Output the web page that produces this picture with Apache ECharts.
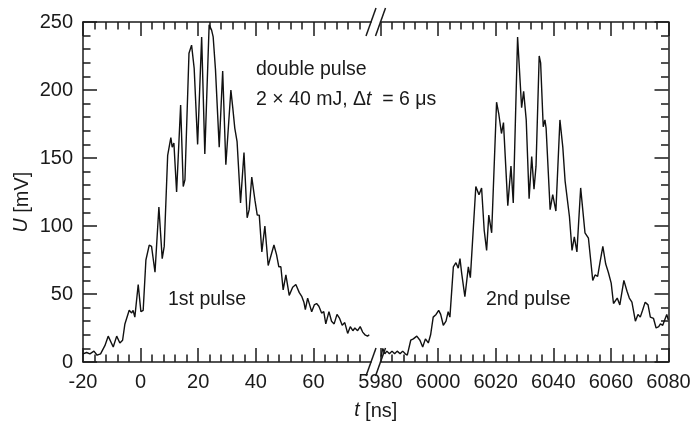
<!DOCTYPE html>
<html>
<head>
<meta charset="utf-8">
<script src="https://cdn.jsdelivr.net/npm/echarts@6/dist/echarts.min.js"></script>
<style>
  html, body { margin: 0; padding: 0; background: #fff; }
  #chart { width: 693px; height: 428px; }
</style>
</head>
<body>
<div id="chart"></div>
<script>
// First pulse: time [ns] and signal [mV]
const firstT = [-20, -18.75, -17.6, -16.2, -15.1, -13.9, -12.4, -11.25, -9.5, -8.3, -7.2, -6.25, -5.45,
  -3.96, -3.1, -2.6, -2.0, -0.83, 0.1, 0.9, 1.84, 3.0, 3.8, 5.0, 6.35, 7.5, 8.2, 9.4, 10.5, 10.97,
  11.56, 12.5, 13.9, 14.8, 15.4, 16.8, 17.2, 17.7, 18.6, 19.1, 19.8, 21.2, 22.3, 23.8, 24.65, 25.2,
  26.0, 27.3, 28.5, 29.6, 31.35, 32.0, 32.7, 33.5, 34.7, 35.9, 37.0, 37.7, 38.6, 39.7, 40.5, 41.2,
  42.1, 43.15, 44.3, 45.5, 46.3, 47.2, 48.0, 48.7, 49.5, 50.45, 51.6, 52.8, 53.9, 55.1, 56.0, 56.7,
  57.2, 58.0, 58.7, 59.4, 60.3, 61.1, 61.9, 62.85, 63.6, 64.3, 65.4, 66.3, 67.2, 68.2, 69.1, 70.0,
  70.9, 71.9, 72.8, 73.7, 74.4, 75.35, 76.25, 77.1, 77.9, 78.8, 79.4];
const firstU = [6, 7, 6, 8, 5, 6, 12, 19, 11, 19, 14, 16, 28,
  38, 36, 38, 33, 57, 37, 38, 75, 86, 85, 66, 114, 76, 85, 152, 165, 158,
  161, 125, 189, 129, 134, 227, 227, 233, 216, 215, 160, 239, 153, 248, 244, 239,
  215, 158, 214, 145, 200, 187, 172, 162, 117, 154, 106, 112, 136, 119, 108, 108,
  81, 100, 71, 80, 86, 79, 70, 70, 53, 64, 49, 55, 57, 51, 48, 44,
  38.5, 47, 42, 37, 42, 43, 41, 36, 37, 28, 37, 30, 28, 35, 32, 27,
  29, 21, 26, 23, 25, 23, 26, 22, 20, 19, 20];

// Second pulse, 6 µs later
const secondT = [5980.2, 5980.8, 5981.5, 5982.2, 5983.1, 5984.0, 5984.9, 5985.8, 5986.8, 5987.7, 5988.6,
  5989.3, 5990.5, 5991.4, 5992.6, 5993.7, 5994.65, 5995.6, 5996.6, 5997.4, 5998.3, 5999.3, 6000.2,
  6000.9, 6001.8, 6002.75, 6003.5, 6004.1, 6005.3, 6006.2, 6007.0, 6007.6, 6008.2, 6009.3, 6010.5,
  6011.2, 6013.1, 6014.2, 6015.1, 6016.0, 6016.85, 6017.6, 6018.6, 6020.3, 6021.1, 6022.0, 6022.7,
  6024.2, 6025.3, 6026.1, 6027.6, 6029.0, 6029.7, 6030.6, 6031.6, 6032.5, 6033.3, 6034.0, 6035.1,
  6035.6, 6036.5, 6037.1, 6037.5, 6038.9, 6039.8, 6040.9, 6042.3, 6043.3, 6044.1, 6044.65, 6045.6,
  6046.5, 6047.3, 6048.2, 6049.5, 6051.0, 6052.2, 6053.7, 6054.5, 6055.4, 6056.2, 6057.2, 6058.2,
  6059.1, 6060.1, 6060.9, 6061.5, 6062.2, 6063.1, 6064.5, 6065.6, 6066.4, 6067.3, 6068.5, 6069.4,
  6070.2, 6071.0, 6071.9, 6072.9, 6073.7, 6074.8, 6075.7, 6076.6, 6077.2, 6078.0, 6078.7, 6079.4, 6079.9];
const secondU = [4, 10, 6, 8, 6, 8, 6, 8, 6, 8, 6,
  5, 16, 17, 19, 16, 11, 17, 14, 20, 33, 35, 38,
  35, 27, 30, 37, 33, 70, 73, 69, 76, 65, 48, 70,
  62, 129, 123, 128, 97, 82, 108, 95, 191, 182, 168, 176,
  115, 144, 117, 239, 187, 199, 178, 120, 151, 127, 144, 225,
  220, 173, 178, 172, 112, 123, 111, 178, 158, 133, 134, 107,
  82, 92, 81, 128, 95, 91, 60, 64, 63, 73, 85, 72,
  66, 58, 43, 42, 47, 42, 60, 52, 47, 44, 30, 35,
  33, 38, 44, 42, 33, 32, 25, 26, 28, 27, 31, 35, 31];

const leftTicks = [-20, 0, 20, 40, 60];
const rightRange = [5980, 6080];
const leftRange = [-20, 80];
const yRange = [0, 250];

const FONT = '"Liberation Sans", Arial, Helvetica, sans-serif';
const INK = '#1a1a1a';
const TICK_FS = 20;
const TEXT_FS = 19.5;

function zip(a, b) { return a.map((v, i) => [v, b[i]]); }
const plain = v => String(v);

const axisLine = { show: true, onZero: false, lineStyle: { color: INK, width: 1.5 } };
const majorTick = { show: true, inside: true, length: 14, lineStyle: { color: INK, width: 1.5 } };
const minorTick = { show: true, splitNumber: 5, length: 7.5, lineStyle: { color: INK, width: 1.5 } };
const tickLabel = { color: INK, fontSize: TICK_FS, fontFamily: FONT, margin: 10, formatter: plain };

function xAxis(grid, pos, range, withLabels, customTicks) {
  return {
    type: 'value', gridIndex: grid, position: pos,
    min: range[0], max: range[1], interval: 20,
    axisLine: axisLine,
    axisTick: customTicks ? Object.assign({ customValues: customTicks }, majorTick) : majorTick,
    minorTick: minorTick,
    splitLine: { show: false },
    axisLabel: withLabels
      ? Object.assign({ showMinLabel: true, showMaxLabel: true,
          customValues: customTicks || undefined }, tickLabel)
      : { show: false }
  };
}

const option = {
  animation: false,
  backgroundColor: '#fff',
  grid: [
    { left: 83, top: 22, width: 288, bottom: 66, outerBoundsMode: 'none' },
    { left: 380.5, top: 22, width: 288, bottom: 66, outerBoundsMode: 'none' }
  ],
  xAxis: [
    xAxis(0, 'bottom', leftRange, true, leftTicks),
    xAxis(1, 'bottom', rightRange, true, null),
    xAxis(0, 'top', leftRange, false, leftTicks),
    xAxis(1, 'top', rightRange, false, null)
  ],
  yAxis: [
    {
      type: 'value', gridIndex: 0, position: 'left',
      min: yRange[0], max: yRange[1], interval: 50,
      axisLine: axisLine, axisTick: majorTick, minorTick: minorTick,
      splitLine: { show: false },
      axisLabel: Object.assign({ showMinLabel: true, showMaxLabel: true }, tickLabel)
    },
    {
      type: 'value', gridIndex: 1, position: 'right',
      min: yRange[0], max: yRange[1], interval: 50,
      axisLine: axisLine, axisTick: majorTick, minorTick: minorTick,
      splitLine: { show: false },
      axisLabel: { show: false }
    }
  ],
  series: [
    {
      type: 'line', xAxisIndex: 0, yAxisIndex: 0, data: zip(firstT, firstU),
      showSymbol: false, symbol: 'none', clip: true,
      lineStyle: { color: '#111', width: 1.4 }
    },
    {
      type: 'line', xAxisIndex: 1, yAxisIndex: 1, data: zip(secondT, secondU),
      showSymbol: false, symbol: 'none', clip: true,
      lineStyle: { color: '#111', width: 1.4 }
    }
  ]
};

const chart = echarts.init(document.getElementById('chart'), null, { renderer: 'canvas' });
chart.setOption(option);

// Axis-break marks and annotations, placed from the axes' own scales
const xa = chart.convertToPixel({ xAxisIndex: 0 }, leftRange[1]);
const xb = chart.convertToPixel({ xAxisIndex: 1 }, rightRange[0]);
const yTop = chart.convertToPixel({ yAxisIndex: 0 }, yRange[1]);
const yBot = chart.convertToPixel({ yAxisIndex: 0 }, yRange[0]);

function slash(cx, cy) {
  return {
    type: 'line', silent: true, z: 100,
    shape: { x1: cx - 5, y1: cy + 14, x2: cx + 5, y2: cy - 14 },
    style: { stroke: INK, lineWidth: 1.5 }
  };
}
function label(x, y, text, extra) {
  return Object.assign({
    type: 'text', silent: true, z: 100, x: x, y: y,
    style: Object.assign({
      text: text, fill: INK, fontSize: TEXT_FS, fontFamily: FONT,
      textAlign: 'left', textVerticalAlign: 'middle',
      rich: { i: { fontStyle: 'italic', fontSize: TEXT_FS, fontFamily: FONT, fill: INK } }
    }, extra || {})
  });
}

const yName = label(22, 202, '{i|U} [mV]', { textAlign: 'center', fontSize: TICK_FS });
yName.rotation = Math.PI / 2;

chart.setOption({
  graphic: [
    slash(xa, yTop), slash(xb, yTop), slash(xa, yBot), slash(xb, yBot),
    label(256, 70, 'double pulse'),
    label(256, 100, '2 × 40 mJ, Δ{i|t}  = 6 μs'),
    label(168, 300, '1st pulse'),
    label(486, 300, '2nd pulse'),
    yName,
    label((xa + xb) / 2, 411, '{i|t} [ns]', { textAlign: 'center', fontSize: TICK_FS })
  ]
});
</script>
</body>
</html>
